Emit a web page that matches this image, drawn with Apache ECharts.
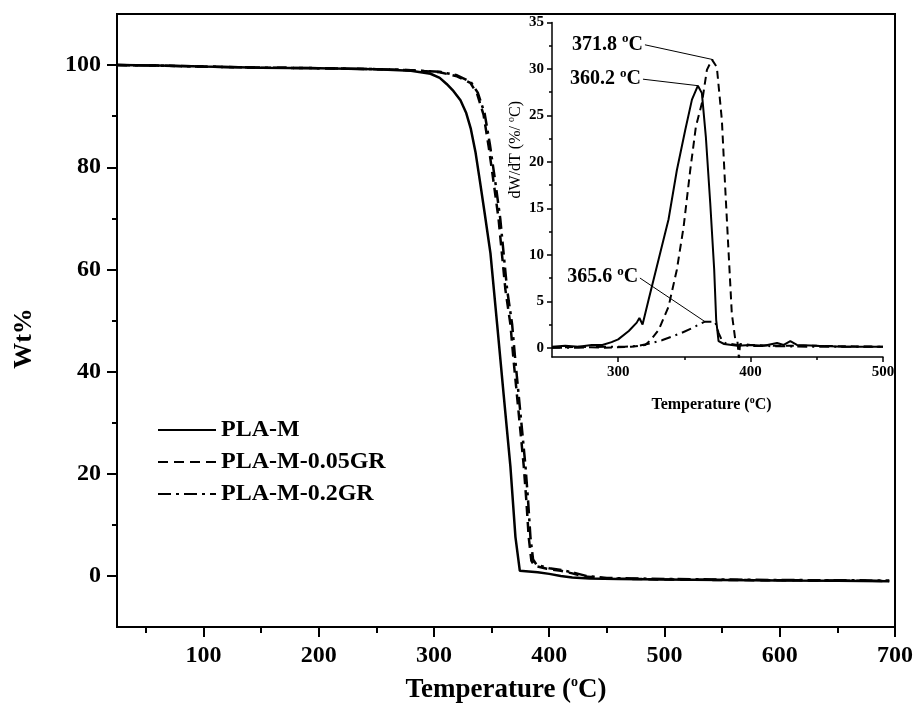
<!DOCTYPE html>
<html>
<head>
<meta charset="utf-8">
<script src="https://cdn.jsdelivr.net/npm/echarts@6/dist/echarts.min.js"></script>
<style>
    html, body { margin: 0; padding: 0; background: #fff; }
    #chart { width: 916px; height: 709px; }
</style>
</head>
<body>
<div id="chart"></div>
<script>
// TGA curves, [temperature, wt%]
const tgaPlaM = [[25,100],[60,99.9],[100,99.7],[150,99.5],[200,99.4],[250,99.2],[280,98.9],[297,98.3],[305,97.5],[311,96.3],[317,94.9],[323,93.1],[328,90.6],[332,87.5],[336,83],[340,77.1],[344,71],[349,63.2],[354.8,49.3],[360.5,35.4],[366.3,21.5],[370.7,7.6],[374.5,1.0],[376,0.9],[390,0.7],[400,0.4],[410,0],[420,-0.3],[435,-0.5],[460,-0.6],[500,-0.7],[550,-0.8],[600,-0.9],[650,-0.95],[695,-1.05]];
const tgaGr005 = [[25,100],[60,99.9],[100,99.7],[150,99.5],[200,99.4],[250,99.2],[280,99.0],[305,98.6],[320,97.8],[331.6,96.5],[337.4,94.4],[343,90.3],[347.5,84],[351.8,77],[356,70],[359,63],[362,56],[366.3,49.3],[369,42.4],[372,35.4],[375,28.4],[377.9,21.5],[380.2,14.6],[382.2,7.6],[384.5,3],[387,2],[398,1.4],[410,1.0],[420,0.5],[430,-0.1],[450,-0.5],[500,-0.7],[550,-0.8],[600,-0.85],[650,-0.9],[695,-1.0]];
const tgaGr02 = [[25,100],[60,99.9],[100,99.7],[150,99.5],[200,99.4],[250,99.2],[280,99.0],[305,98.7],[320,98.0],[332,96.7],[338,94.6],[344,90.5],[348.5,84.5],[353,77.5],[357.5,70],[360.5,63],[363.5,56],[367.8,49.3],[370.5,42.4],[373.5,35.4],[376.5,28.4],[379.4,21.5],[381.7,14.6],[383.7,7.6],[386,3.2],[389,2.2],[400,1.5],[412,1.1],[422,0.6],[432,0],[450,-0.4],[500,-0.6],[550,-0.7],[600,-0.8],[650,-0.85],[695,-0.9]];

// DTG curves for the inset, [temperature, dW/dT]
const dtgPlaM = [[250,0.1],[260,0.2],[270,0.1],[280,0.3],[288,0.3],[295,0.6],[300,0.9],[308,1.8],[314,2.7],[316,3.2],[318.4,2.5],[323,5.2],[330.5,9.5],[338,13.8],[344.3,19.1],[350.6,23.4],[355.7,26.7],[360.2,28.2],[363.2,27.4],[366.2,22.7],[369.5,15.6],[372.5,8.4],[374,3],[375.8,0.7],[380,0.4],[390,0.2],[400,0.3],[410,0.2],[420,0.5],[425,0.3],[430,0.7],[435,0.3],[450,0.2],[470,0.1],[500,0.1]];
const dtgGr005 = [[250,0],[270,0.1],[290,0],[310,0.1],[320.4,0.3],[325,0.9],[330.5,1.9],[338,4.4],[344.3,8.4],[349.4,13],[354.4,19.1],[358.7,23.8],[363.2,26.3],[367,29.9],[370.8,31],[371.8,31],[374.5,30.2],[378.3,24.5],[380.8,17.3],[383.4,10.2],[385.8,3.7],[388.4,0.9],[390,0.8],[391.2,-1.2],[392,0.4],[400,0.3],[420,0.2],[450,0.2],[500,0.1]];
const dtgGr02 = [[250,0],[270,0],[290,0.1],[305,0.1],[315,0.2],[325.5,0.5],[333,0.8],[340.6,1.2],[348,1.6],[355.7,2.1],[361,2.5],[365.6,2.8],[370,2.8],[373.2,2.8],[375.8,1.6],[378,0.9],[380.8,0.5],[390,0.3],[400,0.2],[450,0.1],[500,0.1]];

// peak annotations: [label text, label anchor, peak point]
const peakNotes005 = [['371.8', [320.2, 32.6], [371.8, 31]]];
const peakNotesPlaM = [['360.2', [318.7, 28.9], [360.2, 28.2]]];
const peakNotes02 = [['365.6', [316.4, 7.5], [365.6, 2.8]]];

const seriesNames = ['PLA-M', 'PLA-M-0.05GR', 'PLA-M-0.2GR'];

// tick values
const mainXTicks = [100, 200, 300, 400, 500, 600, 700];
const mainXMinor = [50, 150, 250, 350, 450, 550, 650];
const mainYTicks = [0, 20, 40, 60, 80, 100];
const mainYMinor = [10, 30, 50, 70, 90];
const insetXTicks = [300, 400, 500];
const insetXMinor = [350, 450];
const insetYTicks = [0, 5, 10, 15, 20, 25, 30, 35];
const insetYMinor = [2.5, 7.5, 12.5, 17.5, 22.5, 27.5, 32.5];

const FONT = '"Liberation Serif", "Times New Roman", serif';
const DASH = [10, 6];
const DASHDOT = [13, 5, 3, 5];

let myChart = echarts.init(document.getElementById('chart'));

function axis(opt) {
    return Object.assign({
        type: 'value',
        splitLine: { show: false },
        axisLine: { show: true, onZero: false, lineStyle: { color: '#000', width: 2 } },
        axisTick: { show: true, inside: false, length: 10, lineStyle: { color: '#000', width: 2 } },
        axisLabel: { show: true, color: '#000', fontFamily: FONT, fontWeight: 'bold', fontSize: 24 }
    }, opt)
}

// minor tick axis, only ticks
function minorAxis(grid, pos, min, max, values, len, width) {
    return {
        type: 'value', gridIndex: grid, position: pos, min: min, max: max,
        splitLine: { show: false },
        axisLine: { show: false, onZero: false },
        axisTick: { show: true, inside: false, length: len, customValues: values, lineStyle: { color: '#000', width: width } },
        axisLabel: { show: false }
    }
}

function sup(size, big) {
    return {
        a: { fontFamily: FONT, fontWeight: 'bold', fontSize: big, lineHeight: big + 4, color: '#000' },
        s: { fontFamily: FONT, fontWeight: 'bold', fontSize: size, lineHeight: size, verticalAlign: 'top', color: '#000' }
    }
}

function tga(name, data, dash) {
    return {
        name: name, type: 'line', xAxisIndex: 0, yAxisIndex: 0,
        data: data, symbol: 'none', showSymbol: false, smooth: false,
        color: '#000',
        lineStyle: { color: '#000', width: 2.5, type: dash }
    }
}

function dtg(name, data, dash, notes) {
    return {
        name: name, type: 'line', xAxisIndex: 2, yAxisIndex: 2,
        data: data, symbol: 'none', smooth: false,
        color: '#000',
        lineStyle: { color: '#000', width: 2, type: dash },
        markLine: {
            silent: true,
            animation: false,
            symbol: ['none', 'none'],
            lineStyle: { color: '#000', width: 1, type: 'solid' },
            label: {
                position: 'start',
                distance: 2,
                formatter: p => '{a|' + p.name + ' }{s|o}{a|C}',
                rich: sup(13, 20)
            },
            data: notes.map(n => [{ name: n[0], coord: n[1] }, { coord: n[2] }])
        }
    }
}

let option = {
    animation: false,
    backgroundColor: '#fff',
    grid: [
        { left: 117, right: 21, top: 14, bottom: 79, show: true, borderColor: '#000', borderWidth: 2 },
        { left: 552, right: 33, top: 22.5, bottom: 352 }
    ],
    legend: {
        data: seriesNames,
        orient: 'vertical',
        left: 152,
        top: 413,
        itemWidth: 58,
        itemHeight: 14,
        itemGap: 8,
        itemStyle: { opacity: 0 },
        textStyle: { color: '#000', fontFamily: FONT, fontWeight: 'bold', fontSize: 24, lineHeight: 24 }
    },
    xAxis: [
        axis({
            gridIndex: 0, position: 'bottom', min: 25, max: 700,
            axisTick: { show: true, inside: false, length: 10, customValues: mainXTicks, lineStyle: { color: '#000', width: 2 } },
            axisLabel: { color: '#000', fontFamily: FONT, fontWeight: 'bold', fontSize: 24, margin: 17, customValues: mainXTicks },
            name: '{a|Temperature (}{s|o}{a|C)}',
            nameLocation: 'middle',
            nameGap: 48,
            nameTextStyle: { rich: sup(14, 27) }
        }),
        minorAxis(0, 'bottom', 25, 700, mainXMinor, 6, 2),
        axis({
            gridIndex: 1, position: 'bottom', min: 250, max: 500,
            axisLine: { show: true, onZero: false, lineStyle: { color: '#000', width: 1.5 } },
            axisTick: { show: true, inside: false, length: 5, customValues: insetXTicks, lineStyle: { color: '#000', width: 1.5 } },
            axisLabel: { color: '#000', fontFamily: FONT, fontWeight: 'bold', fontSize: 15, margin: 8, customValues: insetXTicks },
            name: '{a|Temperature (}{s|o}{a|C)}',
            nameLocation: 'middle',
            nameGap: 38,
            nameTextStyle: { rich: sup(10, 16), padding: [0, 12, 0, 0] }
        }),
        minorAxis(1, 'bottom', 250, 500, insetXMinor, 3, 1.5)
    ],
    yAxis: [
        axis({
            gridIndex: 0, position: 'left', min: -10, max: 110,
            axisTick: { show: true, inside: false, length: 10, customValues: mainYTicks, lineStyle: { color: '#000', width: 2 } },
            axisLabel: { color: '#000', fontFamily: FONT, fontWeight: 'bold', fontSize: 24, margin: 16, customValues: mainYTicks },
            name: 'Wt%',
            nameLocation: 'middle',
            nameGap: 80,
            nameTextStyle: { color: '#000', fontFamily: FONT, fontWeight: 'bold', fontSize: 26, padding: [0, 36, 0, 0] }
        }),
        minorAxis(0, 'left', -10, 110, mainYMinor, 5, 2),
        axis({
            gridIndex: 1, position: 'left', min: -1, max: 35,
            axisLine: { show: true, onZero: false, lineStyle: { color: '#000', width: 1.5 } },
            axisTick: { show: true, inside: false, length: 5, customValues: insetYTicks, lineStyle: { color: '#000', width: 1.5 } },
            axisLabel: { color: '#000', fontFamily: FONT, fontWeight: 'bold', fontSize: 15, margin: 8, customValues: insetYTicks },
            name: '{n|dW/dT (%/ }{t|o}{n|C)}',
            nameLocation: 'middle',
            nameGap: 26,
            nameTextStyle: {
                padding: [0, 0, 0, 80],
                rich: {
                    n: { fontFamily: FONT, fontSize: 16, lineHeight: 20, color: '#000' },
                    t: { fontFamily: FONT, fontSize: 10, lineHeight: 10, verticalAlign: 'top', color: '#000' }
                }
            }
        }),
        minorAxis(1, 'left', -1, 35, insetYMinor, 3, 1.5)
    ],
    series: [
        tga(seriesNames[0], tgaPlaM, 'solid'),
        tga(seriesNames[1], tgaGr005, DASH),
        tga(seriesNames[2], tgaGr02, DASHDOT),
        dtg('DTG PLA-M', dtgPlaM, 'solid', peakNotesPlaM),
        dtg('DTG PLA-M-0.05GR', dtgGr005, [8, 5], peakNotes005),
        dtg('DTG PLA-M-0.2GR', dtgGr02, [10, 5, 2, 5], peakNotes02)
    ]
};

myChart.setOption(option)
</script>
</body>
</html>
